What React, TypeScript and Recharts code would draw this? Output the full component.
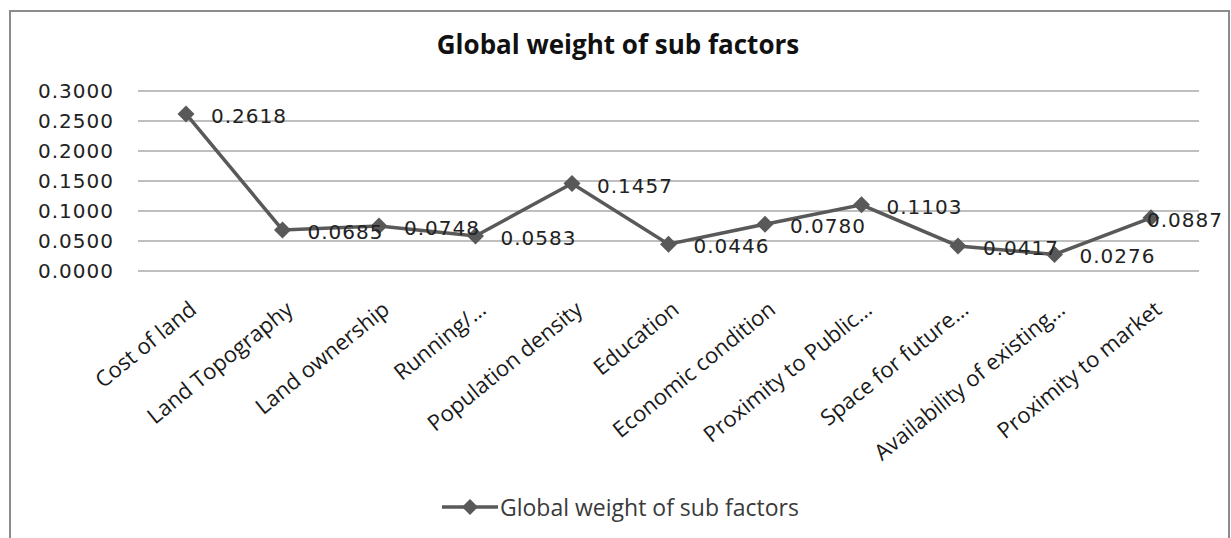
import React from "react";
import { LineChart, Line, XAxis, YAxis, CartesianGrid, LabelList } from "recharts";

const factors = [
  "Cost of land",
  "Land Topography",
  "Land ownership",
  "Running/…",
  "Population density",
  "Education",
  "Economic condition",
  "Proximity to Public…",
  "Space for future…",
  "Availability of existing…",
  "Proximity to market",
];
const weights = [0.2618, 0.0685, 0.0748, 0.0583, 0.1457, 0.0446, 0.078, 0.1103, 0.0417, 0.0276, 0.0887];
const yTicks = [0, 0.05, 0.1, 0.15, 0.2, 0.25, 0.3];

const SERIES = "Global weight of sub factors";
const LINE_COLOR = "#595959";
const NUM_FONT = "'DejaVu Sans', Verdana, sans-serif";
const TEXT_FONT = "'Open Sans', 'Noto Sans', sans-serif";

const rows = factors.map((name, i) => ({ name, weight: weights[i] }));

const Diamond = (props: any) => {
  const { cx, cy } = props;
  if (cx == null || cy == null) return null;
  return (
    <path
      d={`M${cx},${cy - 8.5} L${cx + 8.5},${cy} L${cx},${cy + 8.5} L${cx - 8.5},${cy} Z`}
      fill={LINE_COLOR}
    />
  );
};

const ValueLabel = (props: any) => {
  const { x, y, value, index } = props;
  // the last label has no room on the right, so it sits over its marker
  const dx = index === weights.length - 1 ? -4 : 25;
  return (
    <text
      x={x + dx}
      y={y + 2}
      dominantBaseline="central"
      fontSize={20}
      letterSpacing={1}
      fontFamily={NUM_FONT}
      fill="#222"
    >
      {Number(value).toFixed(4)}
    </text>
  );
};

const CategoryTick = (props: any) => {
  const { x, y, payload } = props;
  const ax = x + 12;
  const ay = y + 41;
  return (
    <text
      x={ax}
      y={ay}
      textAnchor="end"
      transform={`rotate(-39, ${ax}, ${ay})`}
      fontSize={22}
      fontFamily={TEXT_FONT}
      fill="#1a1a1a"
    >
      {payload.value}
    </text>
  );
};

export default function App() {
  return (
    <div style={{ position: "absolute", left: 0, top: 0, width: 1231, height: 538, background: "#fff", overflow: "hidden" }}>
      {/* chart frame, open at the bottom */}
      <div
        style={{
          position: "absolute",
          left: 9,
          top: 10,
          width: 1217,
          height: 540,
          border: "2px solid #8c8c8c",
          borderBottom: "none",
        }}
      />
      <div
        style={{
          position: "absolute",
          left: 0,
          top: 26,
          width: 1236,
          textAlign: "center",
          fontFamily: TEXT_FONT,
          fontWeight: 700,
          fontSize: 26,
          color: "#111",
        }}
      >
        {SERIES}
      </div>
      <div style={{ position: "absolute", left: 0, top: 0 }}>
        <LineChart width={1231} height={538} data={rows} margin={{ top: 91, right: 32, bottom: 67, left: 0 }}>
          <CartesianGrid vertical={false} stroke="#aaaaaa" strokeWidth={1.5} />
          <XAxis
            dataKey="name"
            height={200}
            axisLine={false}
            tickLine={false}
            tickSize={0}
            tickMargin={0}
            interval={0}
            padding={{ left: 48, right: 48 }}
            tick={<CategoryTick />}
          />
          <YAxis
            width={138}
            domain={[0, 0.3]}
            ticks={yTicks}
            axisLine={false}
            tickLine={false}
            tickSize={0}
            tickMargin={24}
            tickFormatter={(v: number) => v.toFixed(4)}
            tick={{ fontSize: 20, fontFamily: NUM_FONT, fill: "#222", letterSpacing: 1 }}
          />
          <Line
            dataKey="weight"
            name={SERIES}
            stroke={LINE_COLOR}
            strokeWidth={3.5}
            dot={<Diamond />}
            activeDot={false}
            isAnimationActive={false}
          >
            <LabelList dataKey="weight" content={<ValueLabel />} />
          </Line>
        </LineChart>
      </div>
      {/* legend */}
      <div
        style={{
          position: "absolute",
          left: 442,
          top: 491,
          display: "flex",
          alignItems: "center",
          fontFamily: TEXT_FONT,
          fontSize: 23,
          color: "#3a3a3a",
        }}
      >
        <svg width={58} height={20}>
          <line x1={0} y1={10} x2={56} y2={10} stroke={LINE_COLOR} strokeWidth={3.5} />
          <path d="M28,2 L36,10 L28,18 L20,10 Z" fill={LINE_COLOR} />
        </svg>
        <span>{SERIES}</span>
      </div>
    </div>
  );
}
